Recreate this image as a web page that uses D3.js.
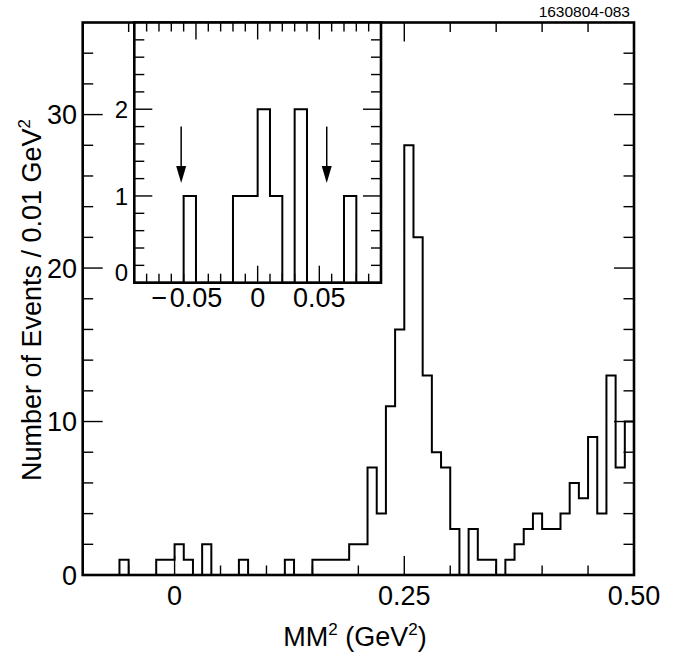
<!DOCTYPE html>
<html>
<head>
<meta charset="utf-8">
<script src="https://cdn.jsdelivr.net/npm/d3@7"></script>
<style>
  html, body { margin: 0; padding: 0; background: #fff; }
  svg { display: block; font-family: "Liberation Sans", Arial, Helvetica, sans-serif; }
</style>
</head>
<body>
<svg id="chart" width="676" height="661"></svg>
<script>
// ---- Data ----
const mainBinStart = -0.10;
const binWidth = 0.01;
const mainCounts = [
  0,0,0,0,1,0,0,0,1,1,
  2,1,0,2,0,0,0,1,0,0,
  0,0,1,0,0,1,1,1,1,2,
  2,7,4,11,16,28,22,13,8,7,
  3,0,3,1,1,0,1,2,3,4,
  3,3,4,6,5,9,4,13,7,10
];
const insetBinStart = -0.10;
const insetCounts = [0,0,0,0,1,0,0,0,1,1, 2,1,0,2,0,0,0,1,0,0];
const mainXTicks = [0, 0.25, 0.50];
const mainXTickLabels = ["0", "0.25", "0.50"];
const mainYTicks = [0, 10, 20, 30];
const insetXTicks = [-0.05, 0, 0.05];
const insetXTickLabels = ["0.05", "0", "0.05"];
const insetYTicks = [0, 1, 2];
const arrowXs = [-0.062, 0.056];
const arrowFrom = 1.8, arrowTo = 1.15;

// ---- Layout ----
const svg = d3.select("#chart");
const M = {left: 82.7, right: 634, top: 22.5, bottom: 575};
const x = d3.scaleLinear().domain([-0.1, 0.5]).range([M.left, M.right]);
const y = d3.scaleLinear().domain([0, 36]).range([M.bottom, M.top]);

const I = {left: 134.3, right: 381, top: 22.5, bottom: 282.7};
const xi = d3.scaleLinear().domain([-0.1, 0.1]).range([I.left, I.right]);
const yi = d3.scaleLinear().domain([0, 3]).range([I.bottom, I.top]);

function histPath(xs, ys, start, counts) {
  const p = d3.path();
  const edges = counts.map((_, i) => start + i * binWidth);
  edges.push(start + counts.length * binWidth);
  p.moveTo(xs(edges[0]), ys(0));
  counts.forEach((c, i) => {
    p.lineTo(xs(edges[i]), ys(c));
    p.lineTo(xs(edges[i + 1]), ys(c));
  });
  p.lineTo(xs(edges[edges.length - 1]), ys(0));
  return p.toString();
}

function ticksFor(lo, hi, step) {
  const n = Math.round((hi - lo) / step);
  const arr = [];
  for (let i = 0; i <= n; i++) arr.push(+(lo + i * step).toFixed(6));
  return arr;
}
function isMajor(v, majors) { return majors.some(m => Math.abs(m - v) < 1e-6); }

// ---- Main plot ----
const g = svg.append("g");
const tickColor = "#000";

ticksFor(-0.1, 0.5, 0.05).forEach(v => {
  const len = isMajor(v, mainXTicks) ? 19 : 9.5;
  if (v <= -0.1 + 1e-6 || v >= 0.5 - 1e-6) return;
  g.append("line").attr("x1", x(v)).attr("x2", x(v)).attr("y1", M.bottom).attr("y2", M.bottom - len)
    .attr("stroke", tickColor).attr("stroke-width", 1.4);
  g.append("line").attr("x1", x(v)).attr("x2", x(v)).attr("y1", M.top).attr("y2", M.top + len)
    .attr("stroke", tickColor).attr("stroke-width", 1.4);
});
ticksFor(0, 36, 2).forEach(v => {
  const len = isMajor(v, mainYTicks) ? 20 : 10.5;
  if (v === 0 || v === 36) return;
  g.append("line").attr("x1", M.left).attr("x2", M.left + len).attr("y1", y(v)).attr("y2", y(v))
    .attr("stroke", tickColor).attr("stroke-width", 1.4);
  g.append("line").attr("x1", M.right).attr("x2", M.right - len).attr("y1", y(v)).attr("y2", y(v))
    .attr("stroke", tickColor).attr("stroke-width", 1.4);
});

g.append("path").attr("d", histPath(x, y, mainBinStart, mainCounts))
  .attr("fill", "none").attr("stroke", "#000").attr("stroke-width", 2).attr("stroke-linejoin", "miter");

g.append("rect").attr("x", M.left).attr("y", M.top).attr("width", M.right - M.left).attr("height", M.bottom - M.top)
  .attr("fill", "none").attr("stroke", "#000").attr("stroke-width", 2.6);

mainXTicks.forEach((v, i) => {
  g.append("text").attr("x", x(v)).attr("y", 605).attr("text-anchor", "middle")
    .attr("font-size", 27).text(mainXTickLabels[i]);
});
mainYTicks.forEach(v => {
  g.append("text").attr("x", 77).attr("y", y(v)).attr("dy", "0.36em").attr("text-anchor", "end")
    .attr("font-size", 27).text(String(v));
});

const xt = g.append("text").attr("x", 355).attr("y", 646).attr("text-anchor", "middle").attr("font-size", 27);
xt.append("tspan").text("MM");
xt.append("tspan").attr("font-size", 17).attr("dy", -11).text("2");
xt.append("tspan").attr("dy", 11).text(" (GeV");
xt.append("tspan").attr("font-size", 17).attr("dy", -11).text("2");
xt.append("tspan").attr("dy", 11).text(")");

const yt = g.append("text").attr("transform", "translate(41,300) rotate(-90)").attr("text-anchor", "middle").attr("font-size", 27);
yt.append("tspan").text("Number of Events / 0.01 GeV");
yt.append("tspan").attr("font-size", 17).attr("dy", -11).text("2");

g.append("text").attr("x", 630).attr("y", 16.5).attr("text-anchor", "end").attr("font-size", 15.5).text("1630804-083");

// ---- Inset ----
const gi = svg.append("g");
gi.append("rect").attr("x", I.left).attr("y", I.top).attr("width", I.right - I.left).attr("height", I.bottom - I.top)
  .attr("fill", "#fff").attr("stroke", "none");

ticksFor(-0.1, 0.1, 0.01).forEach(v => {
  if (v <= -0.1 + 1e-6 || v >= 0.1 - 1e-6) return;
  const len = isMajor(v, insetXTicks) ? 17 : 9;
  gi.append("line").attr("x1", xi(v)).attr("x2", xi(v)).attr("y1", I.bottom).attr("y2", I.bottom - len)
    .attr("stroke", tickColor).attr("stroke-width", 1.4);
  gi.append("line").attr("x1", xi(v)).attr("x2", xi(v)).attr("y1", I.top).attr("y2", I.top + len)
    .attr("stroke", tickColor).attr("stroke-width", 1.4);
});
ticksFor(0, 3, 0.2).forEach(v => {
  if (v <= 1e-6 || v >= 3 - 1e-6) return;
  const len = isMajor(v, insetYTicks) ? 18 : 10;
  gi.append("line").attr("x1", I.left).attr("x2", I.left + len).attr("y1", yi(v)).attr("y2", yi(v))
    .attr("stroke", tickColor).attr("stroke-width", 1.4);
  gi.append("line").attr("x1", I.right).attr("x2", I.right - len).attr("y1", yi(v)).attr("y2", yi(v))
    .attr("stroke", tickColor).attr("stroke-width", 1.4);
});

gi.append("path").attr("d", histPath(xi, yi, insetBinStart, insetCounts))
  .attr("fill", "none").attr("stroke", "#000").attr("stroke-width", 2);

gi.append("rect").attr("x", I.left).attr("y", I.top).attr("width", I.right - I.left).attr("height", I.bottom - I.top)
  .attr("fill", "none").attr("stroke", "#000").attr("stroke-width", 2.6);

arrowXs.forEach(v => {
  const ax = xi(v), y1 = yi(arrowFrom), y2 = yi(arrowTo);
  gi.append("line").attr("x1", ax).attr("x2", ax).attr("y1", y1).attr("y2", y2 - 14)
    .attr("stroke", "#000").attr("stroke-width", 1.5);
  gi.append("path").attr("d", `M${ax - 5},${y2 - 17} L${ax + 5},${y2 - 17} L${ax},${y2} Z`).attr("fill", "#000");
});

// inset x labels: number centred on the tick, minus sign hung to its left
insetXTicks.forEach((v, i) => {
  const t = gi.append("text").attr("x", xi(v)).attr("y", 307).attr("text-anchor", "middle")
    .attr("font-size", 27).text(insetXTickLabels[i]);
  if (v < 0) {
    const w = t.node().getComputedTextLength();
    gi.append("text").attr("x", xi(v) - w / 2 - 2.5).attr("y", 307).attr("text-anchor", "end")
      .attr("font-size", 27).text("\u2212");
  }
});
insetYTicks.forEach(v => {
  const off = v === 0 ? -10 : 0;
  gi.append("text").attr("x", 128).attr("y", yi(v) + off).attr("dy", "0.36em").attr("text-anchor", "end")
    .attr("font-size", 24).text(String(v));
});
</script>
</body>
</html>
